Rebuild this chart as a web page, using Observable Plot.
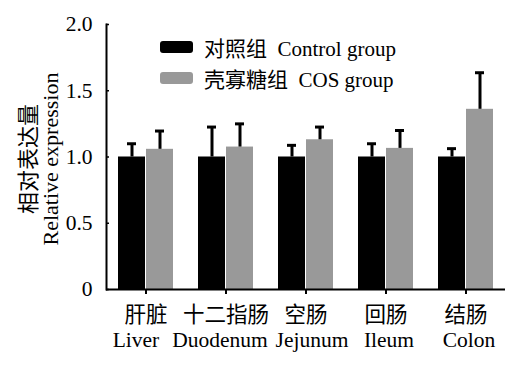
<!DOCTYPE html>
<html><head><meta charset="utf-8">
<script src="https://cdn.jsdelivr.net/npm/d3@7"></script>
<script src="https://cdn.jsdelivr.net/npm/@observablehq/plot@0.6"></script>
<style>
body{margin:0;background:#fff;}
#wrap{position:relative;width:523px;height:366px;font-family:"Liberation Serif","Noto Sans CJK SC",serif;}
.lg{position:absolute;left:160px;height:20px;display:flex;align-items:center;font-size:21px;white-space:nowrap;}
.sw{width:33px;height:12px;border-radius:3px;margin-right:11px;}
</style></head>
<body><div id="wrap"></div>
<script>
const categoriesZh = ["肝脏", "十二指肠", "空肠", "回肠", "结肠"];
const categoriesEn = ["Liver", "Duodenum", "Jejunum", "Ileum", "Colon"];
const groups = ["对照组  Control group", "壳寡糖组  COS group"];
const controlMean = [1.0, 1.0, 1.0, 1.0, 1.0];
const controlErr = [0.10, 0.226, 0.088, 0.10, 0.063];
const cosMean = [1.058, 1.075, 1.13, 1.065, 1.36];
const cosErr = [0.138, 0.175, 0.096, 0.135, 0.276];
const yTicks = [0, 0.5, 1.0, 1.5, 2.0];
const colors = ["#000000", "#999999"];

const data = [];
categoriesEn.forEach((c, i) => {
  data.push({cat: c, g: 0, value: controlMean[i], err: controlErr[i]});
  data.push({cat: c, g: 1, value: cosMean[i], err: cosErr[i]});
});
const zhOf = Object.fromEntries(categoriesEn.map((c, i) => [c, categoriesZh[i]]));
const ctrl = data.filter(d => d.g === 0), cos = data.filter(d => d.g === 1);
// small label nudges so neighbouring English labels do not collide (as in the reference)
const nudge = {Liver: -10, Duodenum: -6, Jejunum: 6, Ileum: 3, Colon: 3};

const chart = Plot.plot({
  width: 523, height: 366,
  marginLeft: 106, marginRight: 18, marginTop: 24, marginBottom: 77,
  style: {fontFamily: '"Liberation Serif","Noto Sans CJK SC",serif', fontSize: "21px", background: "white", color: "black"},
  x: {type: "band", domain: categoriesEn, paddingInner: 0.66, paddingOuter: 0.31, align: 0.5},
  y: {domain: [0, 2], ticks: yTicks},
  marks: [
    Plot.barY(ctrl, {x: "cat", y: "value", dx: -14, fill: colors[0]}),
    Plot.barY(cos, {x: "cat", y: "value", dx: 14, fill: colors[1]}),
    Plot.ruleX(ctrl, {x: "cat", y1: "value", y2: d => d.value + d.err, dx: -14, strokeWidth: 3, stroke: "black"}),
    Plot.ruleX(cos, {x: "cat", y1: "value", y2: d => d.value + d.err, dx: 14, strokeWidth: 3, stroke: "black"}),
    Plot.tickY(ctrl, {x: "cat", y: d => d.value + d.err, dx: -14, strokeWidth: 3, stroke: "black", insetLeft: 9, insetRight: 9}),
    Plot.tickY(cos, {x: "cat", y: d => d.value + d.err, dx: 14, strokeWidth: 3, stroke: "black", insetLeft: 9, insetRight: 9}),
    Plot.ruleY([0], {strokeWidth: 2}),
    Plot.frame({anchor: "left", strokeWidth: 2}),
    Plot.axisY({ticks: yTicks, tickSize: 0, tickPadding: 14, label: null, fontSize: 21.5,
      tickFormat: d => d === 0 ? "0" : d3.format(".1f")(d)}),
    Plot.axisY({ticks: yTicks, tickSize: -3, text: null, label: null, strokeWidth: 1.5}),
    Plot.axisX({tickSize: 5, tickPadding: 12, label: null, fontSize: 21.5, strokeWidth: 2,
      tickFormat: d => zhOf[d]}),
    ...categoriesEn.map(c => Plot.text([c], {x: d => d, text: d => d, frameAnchor: "bottom", dy: 51, dx: nudge[c], fontSize: 21.5, lineAnchor: "middle"})),
    Plot.text(["相对表达量\nRelative expression"], {frameAnchor: "left", rotate: -90, dx: -67, dy: 2, textAnchor: "middle", lineAnchor: "middle", lineHeight: 1.0, fontSize: 22, text: d => d})
  ]
});
const wrap = document.getElementById("wrap");
wrap.appendChild(chart);
const tops = [37, 68];
groups.forEach((g, i) => {
  const el = document.createElement("div");
  el.className = "lg";
  el.style.top = tops[i] + "px";
  el.innerHTML = `<div class="sw" style="background:${colors[i]}"></div><span>${g.replace(/ /g, "&nbsp;")}</span>`;
  wrap.appendChild(el);
});
</script></body></html>
